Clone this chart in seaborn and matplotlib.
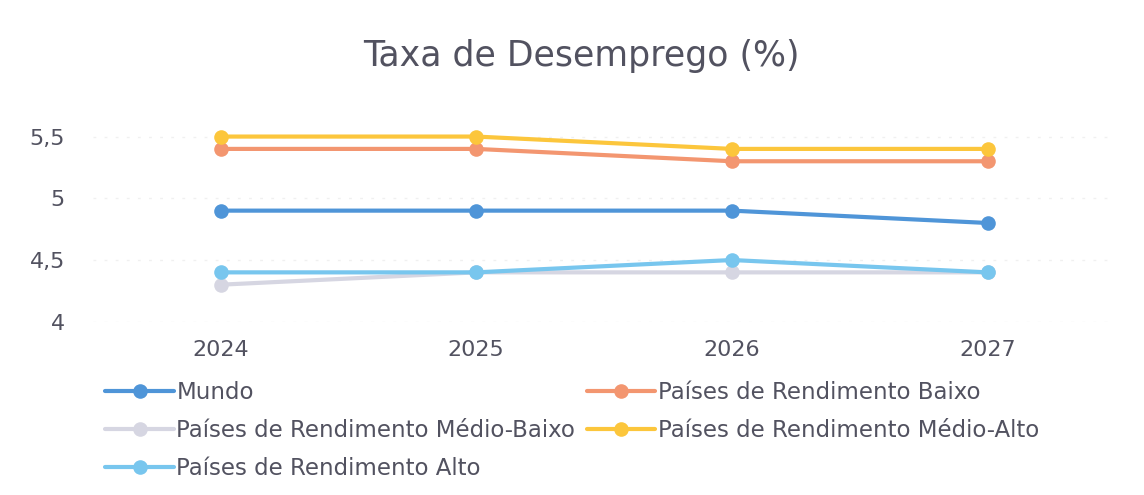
import numpy as np
import pandas as pd
import matplotlib.pyplot as plt
import seaborn as sns

# Data
years = [2024, 2025, 2026, 2027]
mundo = [4.9, 4.9, 4.9, 4.8]
baixo = [5.4, 5.4, 5.3, 5.3]
medio_baixo = [4.3, 4.4, 4.4, 4.4]
medio_alto = [5.5, 5.5, 5.4, 5.4]
alto = [4.4, 4.4, 4.5, 4.4]

series_names = [
    "Mundo",
    "Países de Rendimento Baixo",
    "Países de Rendimento Médio-Baixo",
    "Países de Rendimento Médio-Alto",
    "Países de Rendimento Alto",
]
colors = ["#4F95D8", "#F39670", "#D6D6E2", "#FCC63C", "#78C6EE"]

df = pd.DataFrame({
    "Ano": years * 5,
    "Taxa": mundo + baixo + medio_baixo + medio_alto + alto,
    "Serie": np.repeat(series_names, len(years)),
})

sns.set_style("white")
plt.rcParams["font.family"] = ["DejaVu Sans"]
text_color = "#525260"

fig = plt.figure(figsize=(11.44, 4.95), dpi=100)
ax = fig.add_axes([0.081, 0.35, 0.894, 0.424])

sns.lineplot(
    data=df, x="Ano", y="Taxa", hue="Serie",
    hue_order=series_names, palette=colors,
    marker="o", markersize=10.5, markeredgewidth=0,
    linewidth=3, ax=ax,
)

ax.set_xlim(2023.5, 2027.5)
ax.set_ylim(4, 5.7)
ax.set_xticks(years)
ax.set_xticklabels([str(y) for y in years])
yt = [4, 4.5, 5, 5.5]
ax.set_yticks(yt)
ax.set_yticklabels([f"{v:g}".replace(".", ",") for v in yt])
ax.tick_params(axis="both", length=0, labelsize=16, labelcolor=text_color)
ax.tick_params(axis="y", pad=20)
ax.tick_params(axis="x", pad=13)
ax.set_xlabel("")
ax.set_ylabel("")
ax.grid(axis="y", color="#F0F0F0", linestyle=(0, (2, 6)), linewidth=1)
for s in ax.spines.values():
    s.set_visible(False)

fig.text(0.508, 0.887, "Taxa de Desemprego (%)", ha="center", va="center",
         fontsize=25, color=text_color)

handles, labels = ax.get_legend_handles_labels()
order = [0, 2, 4, 1, 3]
ax.legend([handles[i] for i in order], [labels[i] for i in order],
          loc="upper left", bbox_to_anchor=(0.082, 0.254),
          bbox_transform=fig.transFigure, ncol=2, frameon=False,
          fontsize=16.5, labelcolor=text_color, handlelength=3.0,
          handletextpad=0.1, columnspacing=0.5, labelspacing=0.66,
          borderpad=0)

fig.savefig("out.png", dpi=100)
